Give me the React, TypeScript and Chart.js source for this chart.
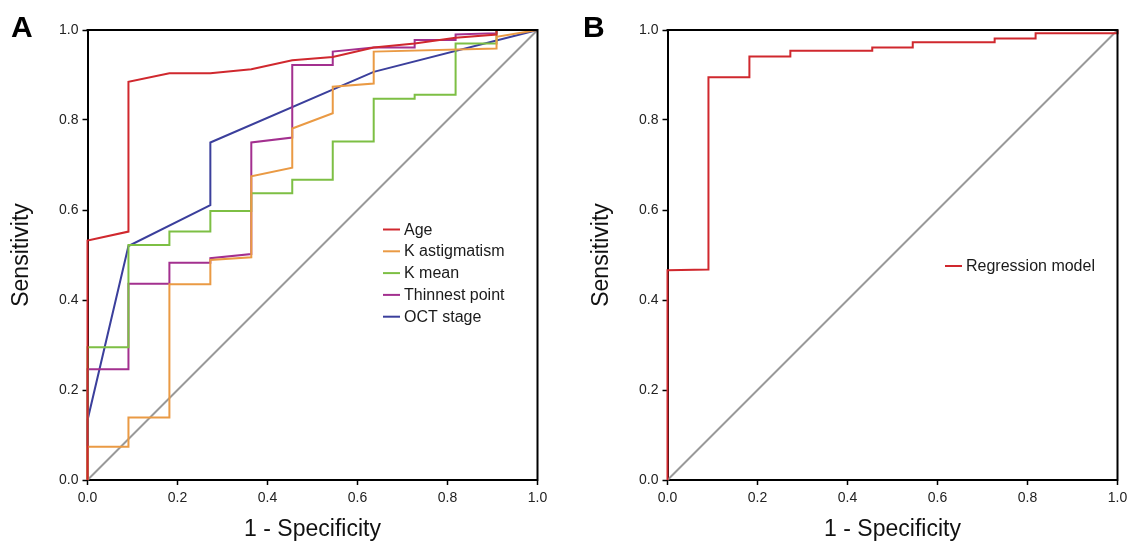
import { useEffect, useRef } from 'react';
import { Chart, registerables } from 'chart.js';

Chart.register(...registerables);

const FONT = "'Liberation Sans', Arial, Helvetica, sans-serif";

// ---- Panel A data (1 - specificity, sensitivity) ----
const ageX = [0, 0, 0.091, 0.091, 0.182, 0.273, 0.364, 0.455, 0.545, 0.636, 0.727, 0.818, 0.909, 0.909, 1];
const ageY = [0, 0.532, 0.552, 0.885, 0.904, 0.904, 0.913, 0.933, 0.94, 0.961, 0.97, 0.983, 0.99, 1.0, 1];

const kAstX = [0, 0, 0.091, 0.091, 0.182, 0.182, 0.273, 0.273, 0.364, 0.364, 0.455, 0.455, 0.545, 0.545, 0.636, 0.636, 0.909, 0.909, 1];
const kAstY = [0, 0.074, 0.074, 0.139, 0.139, 0.435, 0.435, 0.489, 0.495, 0.675, 0.694, 0.781, 0.815, 0.874, 0.881, 0.952, 0.959, 0.985, 1];

const kMeanX = [0, 0, 0.091, 0.091, 0.182, 0.182, 0.273, 0.273, 0.364, 0.364, 0.455, 0.455, 0.545, 0.545, 0.636, 0.636, 0.727, 0.727, 0.818, 0.818, 0.909, 0.909, 1];
const kMeanY = [0, 0.295, 0.295, 0.522, 0.522, 0.552, 0.552, 0.598, 0.598, 0.637, 0.637, 0.667, 0.667, 0.752, 0.752, 0.847, 0.847, 0.856, 0.856, 0.97, 0.97, 1, 1];

const thinX = [0, 0, 0.091, 0.091, 0.182, 0.182, 0.273, 0.273, 0.364, 0.364, 0.455, 0.455, 0.545, 0.545, 0.636, 0.727, 0.727, 0.818, 0.818, 0.909, 0.909, 1];
const thinY = [0, 0.246, 0.246, 0.436, 0.436, 0.483, 0.483, 0.493, 0.502, 0.75, 0.761, 0.922, 0.922, 0.952, 0.961, 0.961, 0.978, 0.978, 0.99, 0.993, 1, 1];

const octX = [0, 0, 0.091, 0.273, 0.273, 0.636, 1];
const octY = [0, 0.133, 0.52, 0.611, 0.75, 0.907, 1];

// ---- Panel B data ----
const regX = [0, 0, 0.091, 0.091, 0.182, 0.182, 0.273, 0.273, 0.455, 0.455, 0.545, 0.545, 0.727, 0.727, 0.818, 0.818, 1, 1];
const regY = [0, 0.466, 0.468, 0.895, 0.895, 0.941, 0.941, 0.954, 0.954, 0.961, 0.961, 0.973, 0.973, 0.981, 0.981, 0.993, 0.993, 1];

const refX = [0, 1];
const refY = [0, 1];

const tickValues = [0, 0.2, 0.4, 0.6, 0.8, 1.0];

const seriesA = [
  { label: 'Age', xs: ageX, ys: ageY, color: '#d0282e' },
  { label: 'K astigmatism', xs: kAstX, ys: kAstY, color: '#ea9a44' },
  { label: 'K mean', xs: kMeanX, ys: kMeanY, color: '#7dbf44' },
  { label: 'Thinnest point', xs: thinX, ys: thinY, color: '#a3308f' },
  { label: 'OCT stage', xs: octX, ys: octY, color: '#3b3f9c' },
];
const seriesB = [{ label: 'Regression model', xs: regX, ys: regY, color: '#d0282e' }];

const toPoints = (xs: number[], ys: number[]) => xs.map((x, i) => ({ x, y: ys[i] }));

type Decor = {
  letter: string;
  letterX: number;
  legendLineX: number;
  legendTop: number;
  legendStep: number;
};

function buildChart(canvas: HTMLCanvasElement, series: typeof seriesA, padLeft: number, padRight: number, decor: Decor) {
  const datasets: any[] = series.map((s, i) => ({
    label: s.label,
    data: toPoints(s.xs, s.ys),
    borderColor: s.color,
    backgroundColor: s.color,
    borderWidth: 2,
    pointRadius: 0,
    tension: 0,
    fill: false,
    clip: false,
    order: i,
  }));
  datasets.push({
    label: 'Reference',
    data: toPoints(refX, refY),
    borderColor: '#999999',
    borderWidth: 2,
    pointRadius: 0,
    fill: false,
    clip: false,
    order: 50,
  });

  const decorPlugin = {
    id: 'rocDecor',
    afterDraw(chart: any) {
      const { ctx, chartArea } = chart;
      ctx.save();
      // top and right frame
      ctx.strokeStyle = '#000';
      ctx.lineWidth = 2;
      ctx.beginPath();
      ctx.moveTo(chartArea.left - 1, chartArea.top);
      ctx.lineTo(chartArea.right, chartArea.top);
      ctx.lineTo(chartArea.right, chartArea.bottom + 1);
      ctx.stroke();
      // legend
      ctx.font = `16px ${FONT}`;
      ctx.textBaseline = 'alphabetic';
      ctx.textAlign = 'left';
      series.forEach((s, i) => {
        const y = decor.legendTop + i * decor.legendStep;
        ctx.strokeStyle = s.color;
        ctx.lineWidth = 2;
        ctx.beginPath();
        ctx.moveTo(decor.legendLineX, y);
        ctx.lineTo(decor.legendLineX + 17, y);
        ctx.stroke();
        ctx.fillStyle = '#1a1a1a';
        ctx.fillText(s.label, decor.legendLineX + 21, y + 5);
      });
      // panel letter
      ctx.font = `bold 30px ${FONT}`;
      ctx.fillStyle = '#000';
      ctx.fillText(decor.letter, decor.letterX, 37);
      ctx.restore();
    },
  };

  const tickFmt = (v: any) => Number(v).toFixed(1);

  return new Chart(canvas, {
    type: 'line',
    data: { datasets },
    plugins: [decorPlugin],
    options: {
      responsive: false,
      animation: false,
      devicePixelRatio: 1,
      layout: { padding: { left: padLeft, top: 30, right: padRight, bottom: 0 } },
      plugins: { legend: { display: false }, tooltip: { enabled: false } },
      scales: {
        x: {
          type: 'linear',
          min: 0,
          max: 1,
          afterBuildTicks: (s: any) => { s.ticks = tickValues.map((v) => ({ value: v })); },
          afterFit: (s: any) => { s.height = 64; s.paddingLeft = 0; s.paddingRight = 0; },
          ticks: { callback: tickFmt, font: { family: FONT, size: 14 }, color: '#222', padding: 5, maxRotation: 0, autoSkip: false },
          grid: { drawOnChartArea: false, drawTicks: true, tickLength: 5, tickColor: '#000', tickWidth: 1.5 },
          border: { display: true, color: '#000', width: 2 },
          title: { display: true, text: '1 - Specificity', font: { family: FONT, size: 23 }, color: '#111', padding: { top: 0, bottom: 1 } },
        },
        y: {
          type: 'linear',
          min: 0,
          max: 1,
          afterBuildTicks: (s: any) => { s.ticks = tickValues.map((v) => ({ value: v })); },
          afterFit: (s: any) => { s.width = 87.5; s.paddingTop = 0; s.paddingBottom = 0; },
          ticks: { callback: tickFmt, font: { family: FONT, size: 14 }, color: '#222', padding: 4, autoSkip: false },
          grid: { drawOnChartArea: false, drawTicks: true, tickLength: 5, tickColor: '#000', tickWidth: 1.5 },
          border: { display: true, color: '#000', width: 2 },
          title: { display: true, text: 'Sensitivity', font: { family: FONT, size: 23 }, color: '#111', padding: { top: 8, bottom: 0 } },
        },
      },
    },
  } as any);
}

export default function App() {
  const refA = useRef<HTMLCanvasElement>(null);
  const refB = useRef<HTMLCanvasElement>(null);

  useEffect(() => {
    document.body.style.margin = '0';
    const a = buildChart(refA.current!, seriesA, 0, 26.5, {
      letter: 'A', letterX: 11, legendLineX: 383, legendTop: 229.5, legendStep: 21.8,
    });
    const b = buildChart(refB.current!, seriesB, 16, 10.5, {
      letter: 'B', letterX: 19, legendLineX: 381, legendTop: 266, legendStep: 22,
    });
    return () => { a.destroy(); b.destroy(); };
  }, []);

  return (
    <div style={{ position: 'absolute', left: 0, top: 0, width: 1128, height: 544, background: '#fff', display: 'flex' }}>
      <canvas ref={refA} width={564} height={544} style={{ display: 'block', width: 564, height: 544 }} />
      <canvas ref={refB} width={564} height={544} style={{ display: 'block', width: 564, height: 544 }} />
    </div>
  );
}
